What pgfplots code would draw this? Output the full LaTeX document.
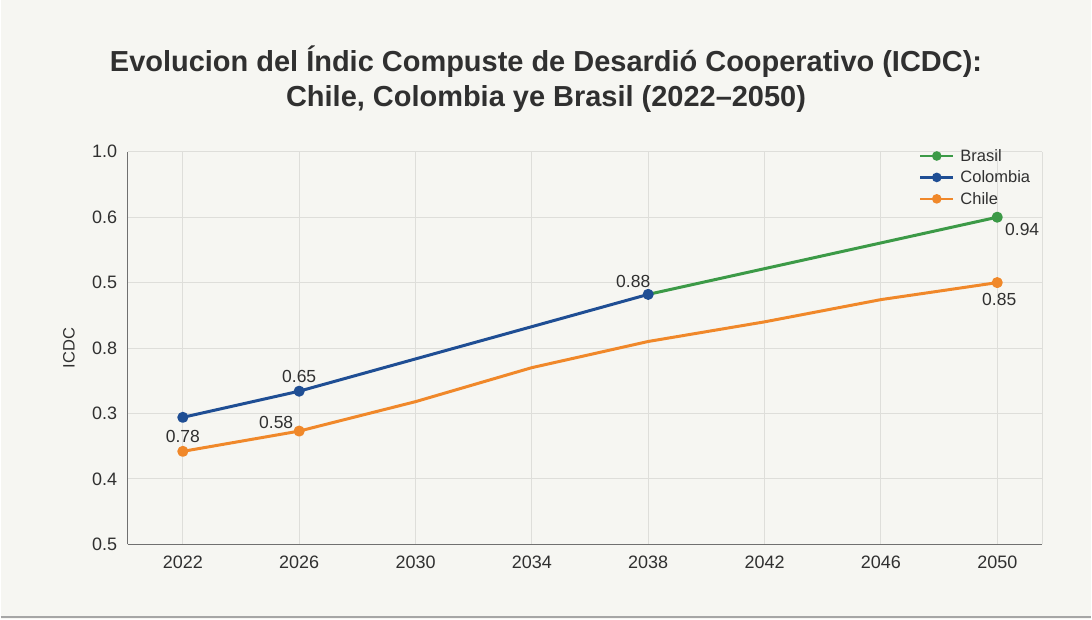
\documentclass[border=0pt]{standalone}
\usepackage{fontspec}
\setmainfont{Liberation Sans}
\usepackage{pgfplots}
\pgfplotsset{compat=1.18}

\definecolor{bg}{HTML}{F6F6F2}
\definecolor{gridc}{HTML}{DEDEDA}
\definecolor{axisc}{HTML}{707070}
\definecolor{txt}{HTML}{303030}
\definecolor{cblue}{HTML}{1F4E94}
\definecolor{corange}{HTML}{F0882A}
\definecolor{cgreen}{HTML}{3C9A47}

\begin{document}
\begin{tikzpicture}
\fill[bg] (0pt,0pt) rectangle (1092pt,620pt);
\draw[gray!70, line width=1.5pt] (0pt,2pt) -- (1092pt,2pt);
\node[anchor=base, text=txt, font=\fontsize{29}{33}\selectfont\bfseries] at (546pt,548pt)
  {Evolucion del Índic Compuste de Desardió Cooperativo (ICDC):};
\node[anchor=base, text=txt, font=\fontsize{29}{33}\selectfont\bfseries] at (546pt,513pt)
  {Chile, Colombia ye Brasil (2022--2050)};

\begin{axis}[
at={(127pt,75pt)}, anchor=south west,
scale only axis,
width=916pt, height=393pt,
xmin=2020.1, xmax=2051.55,
ymin=0, ymax=6,
axis x line*=bottom, axis y line*=left,
axis line style={axisc, line width=1.5pt, -},
xtick={2022,2026,...,2050},
ytick={0,1,2,3,4,5,6},
yticklabels={0.5,0.4,0.3,0.8,0.5,0.6,1.0},
extra x ticks={2051.55}, extra x tick labels={},
grid=major,
major grid style={gridc, line width=1pt},
major tick length=0pt,
tick style={draw=none},
tick label style={text=txt, font=\fontsize{18}{21}\selectfont},
xticklabel style={yshift=-8pt},
yticklabel style={xshift=-7pt},
/pgf/number format/1000 sep={},
/pgf/number format/assume math mode=true,
ylabel={ICDC},
ylabel style={at={(axis description cs:-0.064,0.5)}, anchor=center, text=txt, font=\fontsize{16.5}{19}\selectfont},
legend style={at={(axis description cs:0.865,1.012)}, anchor=north west,
  draw=none, fill=none, inner sep=0pt, row sep=4pt,
  font=\fontsize{16.5}{19}\selectfont, nodes={inner sep=2pt, text=txt}},
legend cell align=left,
legend image code/.code={\draw[mark repeat=2, mark phase=2, #1] plot coordinates {(0pt,0pt)(16.5pt,0pt)(33pt,0pt)};},
clip=false,
]
\addlegendimage{cgreen, line width=2.5pt, mark=*, mark size=3.5pt, mark options={solid, fill=cgreen}}
\addlegendentry{\hspace{4pt}Brasil}
\addlegendimage{cblue, line width=2.5pt, mark=*, mark size=3.5pt, mark options={solid, fill=cblue}}
\addlegendentry{\hspace{4pt}Colombia}
\addlegendimage{corange, line width=2.5pt, mark=*, mark size=3.5pt, mark options={solid, fill=corange}}
\addlegendentry{\hspace{4pt}Chile}

% Brasil
\addplot[forget plot, cgreen, line width=3pt, line join=round, mark=*, mark size=4pt,
  mark options={solid, fill=cgreen}, mark indices={2}]
  coordinates {(2038,3.82)(2050,5.0)};
% Colombia
\addplot[forget plot, cblue, line width=3pt, line join=round, mark=*, mark size=4pt,
  mark options={solid, fill=cblue}]
  coordinates {(2022,1.94)(2026,2.34)(2038,3.82)};
% Chile
\addplot[forget plot, corange, line width=3pt, line join=round, mark=*, mark size=4pt,
  mark options={solid, fill=corange}, mark indices={1,2,8}]
  coordinates {(2022,1.42)(2026,1.73)(2030,2.18)(2034,2.70)(2038,3.10)(2042,3.40)(2046,3.74)(2050,4.00)};

\begin{scope}[every node/.style={text=txt, font=\fontsize{17.5}{20}\selectfont, inner sep=0pt, anchor=center}]
\node[yshift=15pt] at (axis cs:2022,1.42) {0.78};
\node[yshift=15pt] at (axis cs:2026,2.34) {0.65};
\node[xshift=-23pt, yshift=9pt] at (axis cs:2026,1.73) {0.58};
\node[xshift=-15pt, yshift=13pt] at (axis cs:2038,3.82) {0.88};
\node[xshift=25pt, yshift=-12pt] at (axis cs:2050,5.0) {0.94};
\node[xshift=2pt, yshift=-17pt] at (axis cs:2050,4.0) {0.85};
\end{scope}
\end{axis}
\end{tikzpicture}
\end{document}
